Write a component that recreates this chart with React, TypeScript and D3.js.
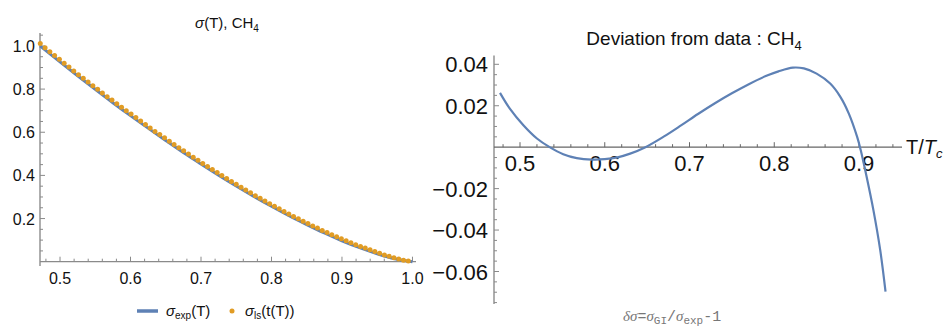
import { useEffect, useRef } from 'react';
import * as d3 from 'd3';

const W = 943;
const H = 326;
const BLUE = '#5e81b5';
const ORANGE = '#e19c24';
const FONT = '"Liberation Sans", Arial, sans-serif';

// left panel: sigma(T), CH4 -- experimental curve
const expT = [0.4716, 0.5, 0.525, 0.55, 0.575, 0.6, 0.625, 0.65, 0.675, 0.7, 0.725, 0.75,
  0.775, 0.8, 0.825, 0.85, 0.875, 0.9, 0.925, 0.95, 0.975, 1.0];
const expSigma = [1.0, 0.926, 0.862, 0.799, 0.737, 0.677, 0.619, 0.562, 0.506, 0.453, 0.401, 0.351,
  0.303, 0.257, 0.213, 0.172, 0.133, 0.097, 0.065, 0.037, 0.014, 0.0];

// left panel: least squares points
const lsT = [0.472, 0.4788, 0.4856, 0.4923, 0.4991, 0.5059, 0.5127, 0.5195, 0.5262, 0.533,
  0.5398, 0.5466, 0.5534, 0.5601, 0.5669, 0.5737, 0.5805, 0.5873, 0.594, 0.6008,
  0.6076, 0.6144, 0.6212, 0.6279, 0.6347, 0.6415, 0.6483, 0.6551, 0.6618, 0.6686,
  0.6754, 0.6822, 0.689, 0.6957, 0.7025, 0.7093, 0.7161, 0.7229, 0.7296, 0.7364,
  0.7432, 0.75, 0.7568, 0.7635, 0.7703, 0.7771, 0.7839, 0.7907, 0.7974, 0.8042,
  0.811, 0.8178, 0.8246, 0.8313, 0.8381, 0.8449, 0.8517, 0.8585, 0.8652, 0.872,
  0.8788, 0.8856, 0.8924, 0.8991, 0.9059, 0.9127, 0.9195, 0.9263, 0.933, 0.9398,
  0.9466, 0.9534, 0.9602, 0.9669, 0.9737, 0.9805, 0.9873, 0.9941];
const lsSigma = [1.011, 0.992, 0.973, 0.956, 0.938, 0.92, 0.902, 0.884, 0.867, 0.85,
  0.833, 0.816, 0.799, 0.782, 0.765, 0.749, 0.732, 0.716, 0.7, 0.684,
  0.668, 0.652, 0.636, 0.62, 0.604, 0.589, 0.574, 0.558, 0.543, 0.528,
  0.514, 0.499, 0.484, 0.47, 0.455, 0.441, 0.427, 0.413, 0.399, 0.386,
  0.372, 0.359, 0.345, 0.332, 0.319, 0.306, 0.294, 0.281, 0.269, 0.257,
  0.245, 0.233, 0.221, 0.21, 0.199, 0.188, 0.177, 0.166, 0.156, 0.145,
  0.135, 0.125, 0.116, 0.106, 0.097, 0.088, 0.079, 0.071, 0.063, 0.055,
  0.047, 0.039, 0.031, 0.025, 0.018, 0.012, 0.007, 0.003];

const leftXTicks = [0.5, 0.6, 0.7, 0.8, 0.9, 1.0];
const leftYTicks = [0.2, 0.4, 0.6, 0.8, 1.0];

// right panel: deviation from data
const devT = [0.4764, 0.488, 0.504, 0.52, 0.535, 0.551, 0.567, 0.585, 0.6, 0.615, 0.63, 0.648,
  0.67, 0.69, 0.71, 0.73, 0.75, 0.77, 0.79, 0.805, 0.822, 0.835, 0.85, 0.866, 0.878, 0.888,
  0.898, 0.902, 0.909, 0.917, 0.925, 0.9313];
const devValue = [0.0262, 0.0186, 0.0106, 0.0042, 0.0, -0.0034, -0.0053, -0.006, -0.0058, -0.0049,
  -0.0031, 0.0, 0.0052, 0.0105, 0.016, 0.0212, 0.026, 0.0304, 0.0343, 0.0366, 0.0384, 0.038,
  0.0355, 0.0307, 0.0243, 0.0162, 0.0047, -0.0014, -0.0143, -0.0304, -0.0496, -0.0697];

const rightXTicks = [0.5, 0.6, 0.7, 0.8, 0.9];
const rightYTicks = [-0.06, -0.04, -0.02, 0.02, 0.04];

export default function App() {
  const svgRef = useRef<SVGSVGElement>(null);

  useEffect(() => {
    const svg = d3.select(svgRef.current);
    svg.selectAll('*').remove();

    // ---------- left panel ----------
    const x1 = d3.scaleLinear().domain([0.4716, 1.005]).range([40, 416]);
    const y1 = d3.scaleLinear().domain([0, 1.06]).range([261.7, 33]);
    const left = svg.append('g');

    // axes
    left.append('line')
      .attr('x1', x1(0.4716)).attr('x2', x1(0.4716))
      .attr('y1', y1(1.06)).attr('y2', y1(-0.02))
      .attr('stroke', '#9a9a9a').attr('stroke-width', 1.6);
    left.append('line')
      .attr('x1', x1(0.4716)).attr('x2', x1(1.005))
      .attr('y1', y1(0)).attr('y2', y1(0))
      .attr('stroke', '#8a8a8a').attr('stroke-width', 1.2);

    d3.range(0.05, 1.06, 0.05).forEach(v => {
      const major = leftYTicks.some(t => Math.abs(t - v) < 1e-6);
      left.append('line')
        .attr('x1', x1(0.4716)).attr('x2', x1(0.4716) + (major ? 5 : 3))
        .attr('y1', y1(v)).attr('y2', y1(v))
        .attr('stroke', '#8a8a8a').attr('stroke-width', 1);
    });
    d3.range(0.48, 1.001, 0.02).forEach(v => {
      const major = leftXTicks.some(t => Math.abs(t - v) < 1e-6);
      left.append('line')
        .attr('x1', x1(v)).attr('x2', x1(v))
        .attr('y1', y1(0)).attr('y2', y1(0) - (major ? 5 : 3))
        .attr('stroke', '#8a8a8a').attr('stroke-width', 1);
    });

    left.selectAll('.ylab').data(leftYTicks).enter().append('text')
      .attr('x', 35).attr('y', d => y1(d) + 6)
      .attr('text-anchor', 'end')
      .style('font-family', FONT).style('font-size', '16px').attr('fill', '#111')
      .text(d => d.toFixed(1));
    left.selectAll('.xlab').data(leftXTicks).enter().append('text')
      .attr('x', d => x1(d)).attr('y', 284)
      .attr('text-anchor', 'middle')
      .style('font-family', FONT).style('font-size', '16px').attr('fill', '#111')
      .text(d => d.toFixed(1));

    // title
    const t1 = left.append('text')
      .attr('x', 227).attr('y', 28).attr('text-anchor', 'middle')
      .style('font-family', FONT).style('font-size', '15px').attr('fill', '#111');
    t1.append('tspan').style('font-style', 'italic').text('σ');
    t1.append('tspan').text('(T), CH');
    t1.append('tspan').attr('dy', 4).style('font-size', '10px').text('4');

    // experimental line
    const expLine = d3.line<number>()
      .x((d, i) => x1(expT[i]))
      .y(d => y1(d))
      .curve(d3.curveMonotoneX);
    left.append('path')
      .attr('d', expLine(expSigma))
      .attr('fill', 'none').attr('stroke', BLUE).attr('stroke-width', 3);

    // ls points
    left.selectAll('.dot').data(lsSigma).enter().append('circle')
      .attr('cx', (d, i) => x1(lsT[i]))
      .attr('cy', d => y1(d))
      .attr('r', 2.5)
      .attr('fill', ORANGE);

    // legend
    left.append('line')
      .attr('x1', 137).attr('x2', 158).attr('y1', 311).attr('y2', 311)
      .attr('stroke', BLUE).attr('stroke-width', 3.5);
    const l1 = left.append('text').attr('x', 166).attr('y', 316)
      .style('font-family', FONT).style('font-size', '15px').attr('fill', '#111');
    l1.append('tspan').style('font-style', 'italic').text('σ');
    l1.append('tspan').attr('dy', 3).style('font-size', '10px').text('exp');
    l1.append('tspan').attr('dy', -3).text('(T)');
    left.append('circle').attr('cx', 232).attr('cy', 311).attr('r', 2.5).attr('fill', ORANGE);
    const l2 = left.append('text').attr('x', 245).attr('y', 316)
      .style('font-family', FONT).style('font-size', '15px').attr('fill', '#111');
    l2.append('tspan').style('font-style', 'italic').text('σ');
    l2.append('tspan').attr('dy', 3).style('font-size', '10px').text('ls');
    l2.append('tspan').attr('dy', -3).text('(t(T))');

    // ---------- right panel ----------
    const x2 = d3.scaleLinear().domain([0.5, 0.9]).range([520, 859]);
    const y2 = d3.scaleLinear().domain([-0.06, 0.04]).range([271.5, 64.3]);
    const right = svg.append('g');
    const axX0 = x2.invert(494);
    const axX1 = x2.invert(902);

    right.append('line')
      .attr('x1', 494).attr('x2', 494)
      .attr('y1', y2(0.0443)).attr('y2', y2(-0.0757))
      .attr('stroke', '#9a9a9a').attr('stroke-width', 1.6);
    right.append('line')
      .attr('x1', x2(axX0)).attr('x2', x2(axX1))
      .attr('y1', y2(0)).attr('y2', y2(0))
      .attr('stroke', '#666').attr('stroke-width', 1.2);

    d3.range(-0.075, 0.0441, 0.005).forEach(v => {
      if (Math.abs(v) < 1e-9) return;
      const major = rightYTicks.some(t => Math.abs(t - v) < 1e-9);
      right.append('line')
        .attr('x1', 494).attr('x2', 494 + (major ? 5 : 3))
        .attr('y1', y2(v)).attr('y2', y2(v))
        .attr('stroke', '#8a8a8a').attr('stroke-width', 1);
    });
    d3.range(0.48, 0.9401, 0.02).forEach(v => {
      const major = rightXTicks.some(t => Math.abs(t - v) < 1e-9);
      right.append('line')
        .attr('x1', x2(v)).attr('x2', x2(v))
        .attr('y1', y2(0)).attr('y2', y2(0) - (major ? 5 : 3))
        .attr('stroke', '#666').attr('stroke-width', 1);
    });

    right.selectAll('.ylab').data(rightYTicks).enter().append('text')
      .attr('x', 488).attr('y', d => y2(d) + 8)
      .attr('text-anchor', 'end')
      .style('font-family', FONT).style('font-size', '22px').attr('fill', '#111')
      .text(d => (d < 0 ? '−' : '') + Math.abs(d).toFixed(2));
    right.selectAll('.xlab').data(rightXTicks).enter().append('text')
      .attr('x', d => x2(d)).attr('y', 171)
      .attr('text-anchor', 'middle')
      .style('font-family', FONT).style('font-size', '22px').attr('fill', '#111')
      .text(d => d.toFixed(1));

    const ax = right.append('text').attr('x', 906).attr('y', 154)
      .style('font-family', FONT).style('font-size', '20px').attr('fill', '#111');
    ax.append('tspan').text('T/');
    ax.append('tspan').style('font-style', 'italic').text('T');
    ax.append('tspan').attr('dy', 4).style('font-style', 'italic').style('font-size', '13px').text('c');

    const t2 = right.append('text')
      .attr('x', 694).attr('y', 45).attr('text-anchor', 'middle')
      .style('font-family', FONT).style('font-size', '19px').attr('fill', '#111');
    t2.append('tspan').text('Deviation from data : CH');
    t2.append('tspan').attr('dy', 5).style('font-size', '13px').text('4');

    const devLine = d3.line<number>()
      .x((d, i) => x2(devT[i]))
      .y(d => y2(d))
      .curve(d3.curveCatmullRom.alpha(0.5));
    right.append('path')
      .attr('d', devLine(devValue))
      .attr('fill', 'none').attr('stroke', BLUE).attr('stroke-width', 2.2);

    const cap = right.append('text').attr('x', 623).attr('y', 321)
      .style('font-family', '"Liberation Mono", monospace').style('font-size', '15px').attr('fill', '#777');
    cap.append('tspan').style('font-family', '"Liberation Serif", serif').style('font-style', 'italic').text('δσ');
    cap.append('tspan').text('=');
    cap.append('tspan').style('font-family', '"Liberation Serif", serif').style('font-style', 'italic').text('σ');
    cap.append('tspan').attr('dy', 3).style('font-size', '11px').text('GI');
    cap.append('tspan').attr('dy', -3).text('/');
    cap.append('tspan').style('font-family', '"Liberation Serif", serif').style('font-style', 'italic').text('σ');
    cap.append('tspan').attr('dy', 3).style('font-size', '11px').text('exp');
    cap.append('tspan').attr('dy', -3).text('-1');
  }, []);

  return (
    <svg
      ref={svgRef}
      width={W}
      height={H}
      style={{ position: 'absolute', left: 0, top: 0, background: '#fff' }}
    />
  );
}
